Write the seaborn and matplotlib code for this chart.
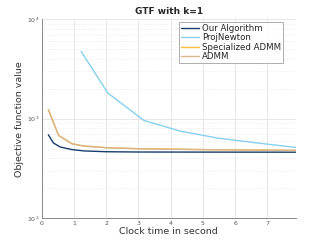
import numpy as np
import pandas as pd
import seaborn as sns
import matplotlib.pyplot as plt
from matplotlib.ticker import LogLocator, NullFormatter

# values
ours_t = [0.2, 0.36, 0.57, 0.93, 1.3, 2.0, 3.0, 5.0, 7.88]
ours_v = [690, 570, 520, 490, 475, 466, 463, 462, 461]

newton_t = [1.22, 2.05, 3.17, 4.3, 5.45, 6.6, 7.88]
newton_v = [4730, 1810, 960, 750, 640, 575, 515]

sadmm_t = [0.2, 0.52, 0.93, 1.3, 2.0, 3.0, 5.0, 7.88]
sadmm_v = [1240, 680, 561, 532, 512, 500, 490, 481]

admm_t = [0.2, 0.52, 0.93, 1.3, 2.0, 3.0, 5.0, 7.88]
admm_v = [1235, 678, 560, 531, 511, 499, 489, 480]

names = ['Our Algorithm', 'ProjNewton', 'Specialized ADMM', 'ADMM']
colors = ['#163d6c', '#86d0f0', '#f6be3c', '#d9b58d']

frames = []
for n, t, v in zip(names, [ours_t, newton_t, sadmm_t, admm_t],
                   [ours_v, newton_v, sadmm_v, admm_v]):
    frames.append(pd.DataFrame({'time': t, 'value': v, 'method': n}))
df = pd.concat(frames, ignore_index=True)

sns.set_style("white")
plt.rcParams['font.family'] = ['DejaVu Sans']

fig = plt.figure(figsize=(3.27, 2.45), dpi=100)
ax = fig.add_axes([0.128, 0.109, 0.776, 0.813])

sns.lineplot(data=df, x='time', y='value', hue='method', hue_order=names,
             palette=colors, linewidth=1.0, ax=ax, sort=False, estimator=None)

ax.set_yscale('log')
ax.set_ylim(100, 10000)
ax.set_xlim(0, 7.88)
ax.set_xticks(range(0, 8))
ax.yaxis.set_minor_locator(LogLocator(base=10, subs=np.arange(2, 10)))
ax.yaxis.set_minor_formatter(NullFormatter())

ax.grid(True, which='major', color='#e3e3e3', linewidth=0.6)
ax.grid(True, which='minor', axis='y', color='#e3e3e3', linewidth=0.5, linestyle=':')
ax.set_axisbelow(True)

for s in ['top', 'right']:
    ax.spines[s].set_visible(False)
for s in ['left', 'bottom']:
    ax.spines[s].set_color('#8a8a8a')
    ax.spines[s].set_linewidth(0.7)

ax.tick_params(axis='both', which='major', labelsize=4.5, colors='#555555',
               direction='in', length=2, width=0.5, pad=2)
ax.tick_params(axis='y', which='minor', direction='in', length=1, width=0.4,
               colors='#8a8a8a')

ax.set_xlabel('Clock time in second', fontsize=6.8, color='#333333', labelpad=1)
ax.set_ylabel('Objective function value', fontsize=6.8, color='#333333', labelpad=2)
ax.set_title('GTF with k=1', fontsize=6.5, fontweight='bold', pad=4)

leg = ax.legend(loc='upper right', bbox_to_anchor=(0.95, 0.985), fontsize=6.2,
                frameon=True, fancybox=False, handlelength=2.2, handletextpad=0.3,
                borderpad=0.2, labelspacing=0.05, borderaxespad=0)
leg.get_frame().set_edgecolor('#8a8a8a')
leg.get_frame().set_linewidth(0.6)
leg.set_title(None)

fig.savefig('out.png', dpi=100)
